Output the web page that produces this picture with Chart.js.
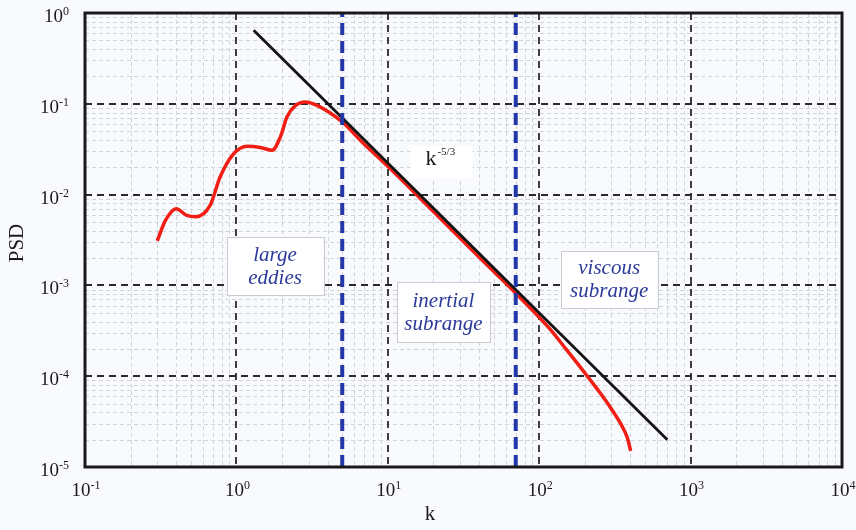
<!DOCTYPE html>
<html>
<head>
<meta charset="utf-8">
<script src="https://cdn.jsdelivr.net/npm/chart.js@4"></script>
<style>
  html, body { margin: 0; padding: 0; background: #f9fafd; }
  #wrap { width: 856px; height: 530px; }
</style>
</head>
<body>
<div id="wrap"><canvas id="psdChart" width="856" height="530"></canvas></div>
<script>
// energy spectrum (red curve)
var spectrumK = [0.30, 0.34, 0.40, 0.47, 0.54, 0.67, 0.78, 0.94, 1.18, 1.44, 1.72, 1.95, 2.16, 2.46, 2.86, 3.41,
                 5.0, 6.6, 10, 20, 40, 70, 116, 150, 210, 255, 296, 345, 382, 402];
var spectrumPsd = [3.1e-3, 5.2e-3, 7.0e-3, 5.9e-3, 5.7e-3, 7.6e-3, 1.56e-2, 2.71e-2, 3.4e-2, 3.3e-2, 3.08e-2, 4.3e-2, 7.2e-2, 9.6e-2, 0.105, 9.6e-2,
                   6.3e-2, 3.95e-2, 2.05e-2, 6.5e-3, 2.05e-3, 8.2e-4, 3.4e-4, 2.0e-4, 9.8e-5, 6.4e-5, 4.5e-5, 3.0e-5, 2.1e-5, 1.5e-5];

// k^-5/3 reference line
var slopeK = [1.3, 702];
var slopePsd = [0.645, 2.0e-5];

// range boundaries (blue dashed)
var boundaryK = [5, 70];

var xTickValues = [0.1, 1, 10, 100, 1000, 10000];
var xTickExps = ['-1', '0', '1', '2', '3', '4'];
var yTickValues = [1, 0.1, 0.01, 0.001, 0.0001, 0.00001];
var yTickExps = ['0', '-1', '-2', '-3', '-4', '-5'];

var serif = '"Liberation Serif", "Times New Roman", serif';
var blueText = '#2b3a9a';

function pts(xs, ys) {
    return xs.map(function(x, i) { return {x: x, y: ys[i]}; });
}

function drawPower(ctx, exp, x, baseline, align) {
    ctx.font = '19px ' + serif;
    var w1 = ctx.measureText('10').width;
    ctx.font = '12px ' + serif;
    var w2 = ctx.measureText(exp).width;
    var start = align === 'center' ? x - (w1 + w2) / 2 : x - (w1 + w2);
    ctx.textAlign = 'left';
    ctx.textBaseline = 'alphabetic';
    ctx.fillStyle = '#1a1a1a';
    ctx.font = '19px ' + serif;
    ctx.fillText('10', start, baseline);
    ctx.font = '12px ' + serif;
    ctx.fillText(exp, start + w1, baseline - 7);
}

function drawBox(ctx, cx, cy, w, h, border) {
    ctx.fillStyle = '#ffffff';
    ctx.fillRect(cx - w / 2, cy - h / 2, w, h);
    if (border) {
        ctx.strokeStyle = '#c9cbd3';
        ctx.lineWidth = 1;
        ctx.setLineDash([]);
        ctx.strokeRect(Math.round(cx - w / 2) + 0.5, Math.round(cy - h / 2) + 0.5, Math.round(w), Math.round(h));
    }
}

function rangeLabel(chart, k, psd, w, h, lines) {
    var ctx = chart.ctx;
    var cx = chart.scales.x.getPixelForValue(k);
    var cy = chart.scales.y.getPixelForValue(psd);
    drawBox(ctx, cx, cy, w, h, true);
    ctx.fillStyle = blueText;
    ctx.font = 'italic 21px ' + serif;
    ctx.textAlign = 'center';
    ctx.textBaseline = 'middle';
    ctx.fillText(lines[0], cx, cy - 11);
    ctx.fillText(lines[1], cx, cy + 12);
}

var decor = {
    id: 'decor',
    beforeDraw: function(chart) {
        var ctx = chart.ctx;
        ctx.save();
        ctx.fillStyle = '#f9fafd';
        ctx.fillRect(0, 0, chart.width, chart.height);
        ctx.restore();
    },
    beforeDatasetsDraw: function(chart) {
        var ctx = chart.ctx, a = chart.chartArea;
        var xs = chart.scales.x, ys = chart.scales.y;
        ctx.save();
        // minor grid
        ctx.strokeStyle = '#d2d4d9';
        ctx.lineWidth = 1;
        ctx.setLineDash([4, 3]);
        for (var e = -1; e < 4; e++) {
            for (var m = 2; m < 10; m++) {
                var px = Math.round(xs.getPixelForValue(m * Math.pow(10, e))) + 0.5;
                ctx.beginPath(); ctx.moveTo(px, a.top); ctx.lineTo(px, a.bottom); ctx.stroke();
            }
        }
        for (var e2 = -5; e2 < 0; e2++) {
            for (var m2 = 2; m2 < 10; m2++) {
                var py = Math.round(ys.getPixelForValue(m2 * Math.pow(10, e2))) + 0.5;
                ctx.beginPath(); ctx.moveTo(a.left, py); ctx.lineTo(a.right, py); ctx.stroke();
            }
        }
        // decade grid
        ctx.strokeStyle = '#2a2a2a';
        ctx.lineWidth = 1.8;
        ctx.setLineDash([7, 5]);
        xTickValues.slice(1, -1).forEach(function(v) {
            var px = Math.round(xs.getPixelForValue(v));
            ctx.beginPath(); ctx.moveTo(px, a.top); ctx.lineTo(px, a.bottom); ctx.stroke();
        });
        yTickValues.slice(1, -1).forEach(function(v) {
            var py = Math.round(ys.getPixelForValue(v));
            ctx.beginPath(); ctx.moveTo(a.left, py); ctx.lineTo(a.right, py); ctx.stroke();
        });
        ctx.restore();
    },
    afterDatasetsDraw: function(chart) {
        var ctx = chart.ctx, a = chart.chartArea;
        var xs = chart.scales.x, ys = chart.scales.y;
        ctx.save();
        rangeLabel(chart, 1.80, 1.62e-3, 97, 58, ['large', 'eddies']);
        rangeLabel(chart, 23.3, 5.06e-4, 93, 60, ['inertial', 'subrange']);
        rangeLabel(chart, 290, 1.15e-3, 97, 57, ['viscous', 'subrange']);

        // slope label
        var kx = xs.getPixelForValue(22.6), ky = ys.getPixelForValue(0.0227);
        drawBox(ctx, kx, ky, 62, 33, false);
        ctx.fillStyle = '#1a1a1a';
        ctx.textAlign = 'left';
        ctx.textBaseline = 'alphabetic';
        ctx.font = '22px ' + serif;
        ctx.fillText('k', kx - 16, ky + 3);
        ctx.font = '11px ' + serif;
        ctx.fillText('-5/3', kx - 4, ky - 7);

        // frame
        ctx.strokeStyle = '#1a1a1a';
        ctx.lineWidth = 3;
        ctx.setLineDash([]);
        ctx.strokeRect(a.left, a.top, a.right - a.left, a.bottom - a.top);
        ctx.restore();
    },
    afterDraw: function(chart) {
        var ctx = chart.ctx, a = chart.chartArea;
        var xs = chart.scales.x, ys = chart.scales.y;
        ctx.save();
        xTickValues.forEach(function(v, i) {
            drawPower(ctx, xTickExps[i], xs.getPixelForValue(v) + 1, a.bottom + 29, 'center');
        });
        yTickValues.forEach(function(v, i) {
            drawPower(ctx, yTickExps[i], 69, ys.getPixelForValue(v) + 9, 'right');
        });
        // axis titles
        ctx.fillStyle = '#1a1a1a';
        ctx.font = '21px ' + serif;
        ctx.textAlign = 'center';
        ctx.textBaseline = 'middle';
        ctx.fillText('k', 430, 514);
        ctx.translate(17, 243);
        ctx.rotate(-Math.PI / 2);
        ctx.fillText('PSD', 0, 0);
        ctx.restore();
    }
};

var ctx = document.getElementById('psdChart').getContext('2d');
var psdChart = new Chart(ctx, {
    type: 'line',
    data: {
        datasets: boundaryK.map(function(k) {
            return {
                data: pts([k, k], [1e-5, 1]),
                borderColor: '#2338a8',
                borderWidth: 4,
                borderDash: [12, 6],
                pointRadius: 0
            };
        }).concat([{
            label: 'k^-5/3',
            data: pts(slopeK, slopePsd),
            borderColor: '#141414',
            borderWidth: 2.8,
            pointRadius: 0
        }, {
            label: 'PSD',
            data: pts(spectrumK, spectrumPsd),
            borderColor: '#f01e14',
            borderWidth: 3.5,
            pointRadius: 0,
            cubicInterpolationMode: 'monotone'
        }])
    },
    options: {
        responsive: false,
        animation: false,
        devicePixelRatio: 1,
        layout: { padding: { left: 85, right: 14, top: 13, bottom: 63 } },
        plugins: { legend: { display: false }, tooltip: { enabled: false } },
        scales: {
            x: { type: 'logarithmic', min: 0.1, max: 10000, display: false },
            y: { type: 'logarithmic', min: 1e-5, max: 1, display: false }
        }
    },
    plugins: [decor]
});
</script>
</body>
</html>
